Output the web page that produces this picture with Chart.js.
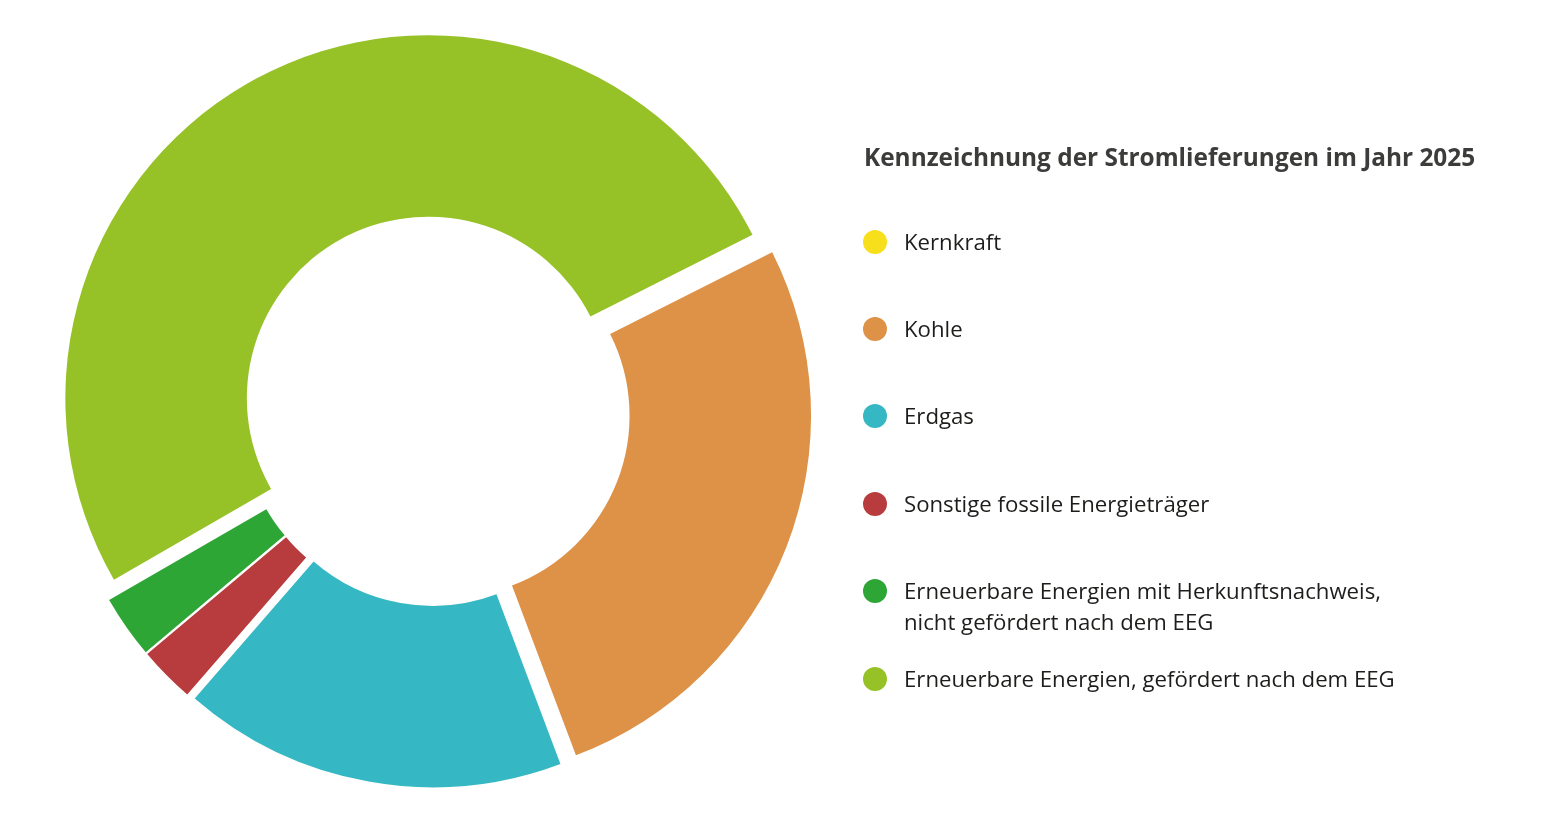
<!DOCTYPE html>
<html lang="de">
<head>
<meta charset="utf-8">
<title>Kennzeichnung der Stromlieferungen im Jahr 2025</title>
<script src="https://cdn.jsdelivr.net/npm/chart.js@4.4.1/dist/chart.umd.min.js"></script>
<style>
  html, body { margin: 0; padding: 0; background: #ffffff; }
  #wrap { position: relative; width: 1546px; height: 833px; overflow: hidden; }
  #c { position: absolute; left: 0; top: 0; }
  #legend { position: absolute; left: 0; top: 0; width: 1546px; height: 833px; font-family: "Open Sans", sans-serif; }
  .title { position: absolute; left: 864px; font-weight: 700; font-size: 24.4px; line-height: 30px; color: #3c3c3b; white-space: nowrap; }
  .dot { position: absolute; width: 24px; height: 24px; border-radius: 50%; }
  .txt { position: absolute; font-size: 22.2px; line-height: 31px; color: #1d1d1b; white-space: nowrap; }
</style>
</head>
<body>
<div id="wrap">
  <canvas id="c" width="1546" height="833"></canvas>
  <div id="legend"></div>
</div>
<script>
// ---- data ----
const categories = [
  'Kernkraft',
  'Kohle',
  'Erdgas',
  'Sonstige fossile Energieträger',
  ['Erneuerbare Energien mit Herkunftsnachweis,', 'nicht gefördert nach dem EEG'],
  'Erneuerbare Energien, gefördert nach dem EEG'
];
const shares = [0, 26.7, 17.1, 2.5, 2.8, 50.9];
const colors = ['#f8df1c', '#dd9247', '#35b8c3', '#b83b3d', '#2ea636', '#97c227'];
const chartTitle = 'Kennzeichnung der Stromlieferungen im Jahr 2025';

// ---- layout ----
const EXPLODE = 14;
const LEGEND_FIRST_ROW = 241.5;
const LEGEND_ROW_STEP = 87.4;

// draw each slice pulled out along its bisector
const explodePlugin = {
  id: 'explodeSlices',
  beforeDatasetDraw(chart, args) {
    const ctx = chart.ctx;
    args.meta.data.forEach(arc => {
      const p = arc.getProps(['startAngle', 'endAngle'], true);
      const mid = (p.startAngle + p.endAngle) / 2;
      ctx.save();
      ctx.translate(Math.cos(mid) * EXPLODE, Math.sin(mid) * EXPLODE);
      arc.draw(ctx, chart.chartArea);
      ctx.restore();
    });
    return false;
  }
};

new Chart(document.getElementById('c'), {
  type: 'doughnut',
  data: {
    labels: categories,
    datasets: [{
      data: shares,
      backgroundColor: colors,
      borderWidth: 0,
      hoverOffset: 0
    }]
  },
  options: {
    responsive: false,
    animation: false,
    events: [],
    rotation: 63.25,
    cutout: '50%',
    radius: 363,
    layout: { padding: { left: 0, top: 0, right: 676, bottom: 12 } },
    plugins: {
      legend: { display: false },
      tooltip: { enabled: false },
      title: { display: false }
    }
  },
  plugins: [explodePlugin]
});

// ---- legend ----
const legend = document.getElementById('legend');
const t = document.createElement('div');
t.className = 'title';
t.style.top = '142px';
t.textContent = chartTitle;
legend.appendChild(t);

categories.forEach((label, i) => {
  const cy = LEGEND_FIRST_ROW + i * LEGEND_ROW_STEP;
  const dot = document.createElement('div');
  dot.className = 'dot';
  dot.style.left = '863px';
  dot.style.top = (cy - 12) + 'px';
  dot.style.background = colors[i];
  legend.appendChild(dot);
  const lines = Array.isArray(label) ? label : [label];
  lines.forEach((line, j) => {
    const tx = document.createElement('div');
    tx.className = 'txt';
    tx.style.left = '904px';
    tx.style.top = (cy - 16 + j * 31) + 'px';
    tx.textContent = line;
    legend.appendChild(tx);
  });
});
</script>
</body>
</html>
